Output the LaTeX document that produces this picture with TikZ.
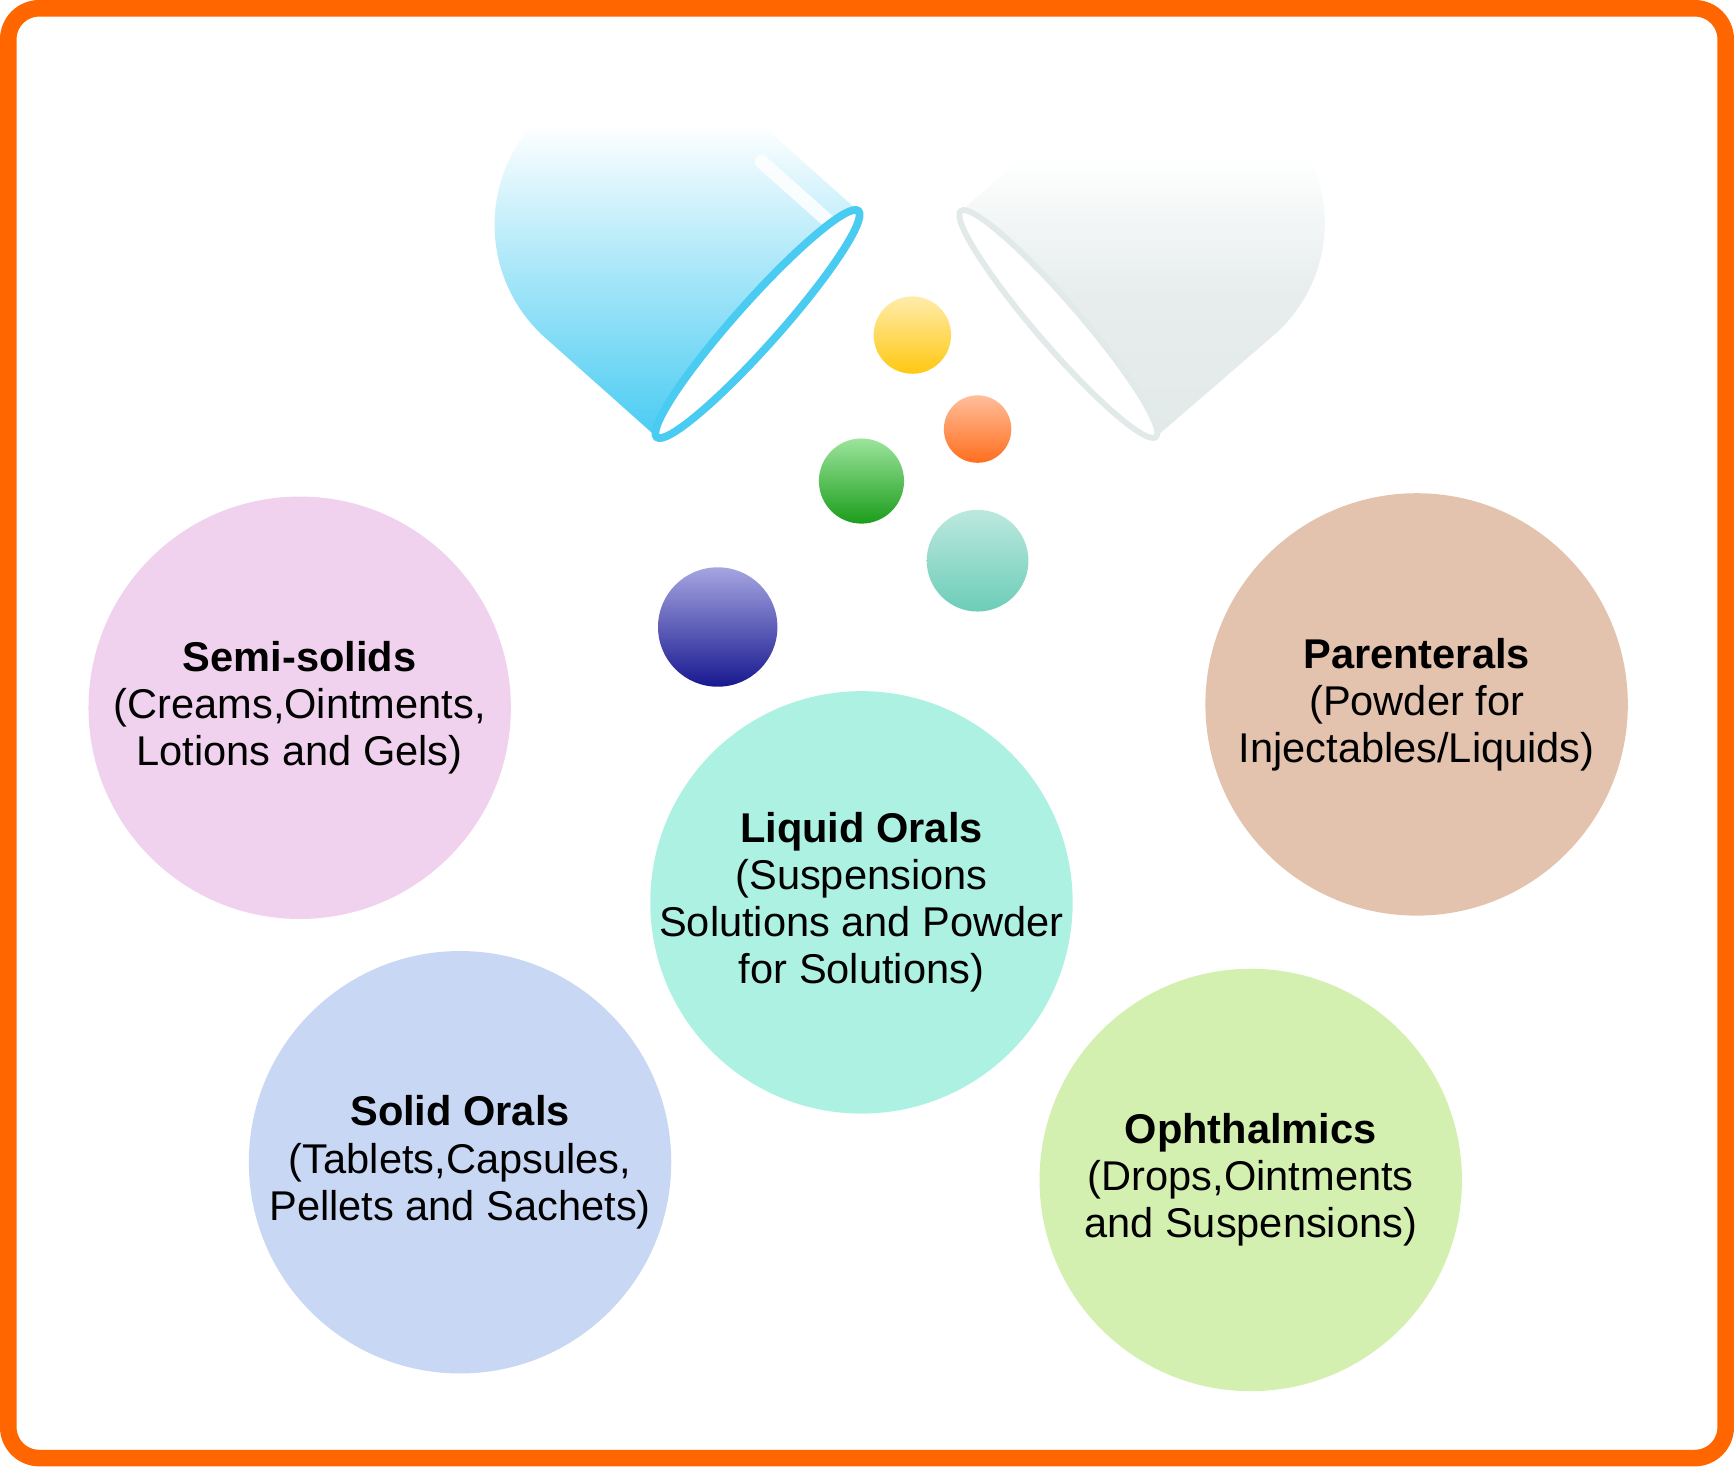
\documentclass[tikz,border=0pt]{standalone}
\usepackage{fontspec}
\setmainfont{Liberation Sans}
\definecolor{frameorange}{HTML}{FF6600}
\definecolor{semicol}{HTML}{F0D2EE}
\definecolor{liquidcol}{HTML}{ADF1E2}
\definecolor{parentcol}{HTML}{E3C3AE}
\definecolor{solidcol}{HTML}{C8D7F3}
\definecolor{ophthcol}{HTML}{D4F0B0}
\definecolor{capblue}{HTML}{4ACCF2}
\definecolor{capgrey}{HTML}{E2E9E9}
\definecolor{beadyellow}{HTML}{FFC810}
\definecolor{beadorange}{HTML}{FF6E1E}
\definecolor{beadgreen}{HTML}{22C422}
\definecolor{beadteal}{HTML}{6CCDB8}
\definecolor{beadblue}{HTML}{1E1EB4}
\pgfdeclareverticalshading{bluefade}{100bp}{color(0bp)=(capblue); color(25bp)=(capblue); color(48bp)=(capblue!45); color(66bp)=(white); color(100bp)=(white)}
\pgfdeclareverticalshading{greyfade}{100bp}{color(0bp)=(capgrey); color(25bp)=(capgrey); color(45bp)=(capgrey!80); color(62bp)=(white); color(100bp)=(white)}

\begin{document}
\begin{tikzpicture}[x=0.1mm,y=0.1mm,
        dose/.style = {circle, minimum size=38.2mm, inner sep=0pt},
        doselabel/.style = {align=center, inner sep=0pt, font=\fontsize{10.7}{12.1}\selectfont},
        bead/.style = {circle, inner sep=0pt},
        ]
        \useasboundingbox (0,0) rectangle (1568,1326);
        \draw[frameorange, line width=1.5mm, rounded corners=2.8mm] (7.5,7.5) rectangle (1560.5,1318.5);

        \begin{scope}[shift={(685,1033)},rotate=138.3]
            \shade[shading=bluefade] (0,-137) -- (135,-137) arc[start angle=-90,end angle=90,radius=137] -- (0,137) -- cycle;
            \draw[white, line width=3.5pt, opacity=0.85, line cap=round] (10,-112) -- (95,-112);
            \draw[capblue, line width=2pt, fill=white] (0,0) ellipse[x radius=20, y radius=137];
        \end{scope}
        \begin{scope}[shift={(957,1033)},rotate=40.8]
            \shade[shading=greyfade] (0,-135) -- (140,-135) arc[start angle=-90,end angle=90,radius=135] -- (0,135) -- cycle;
            \draw[capgrey, line width=1.5pt, fill=white] (0,0) ellipse[x radius=20, y radius=135];
        \end{scope}

        \node[bead, top color=beadyellow!35!white, bottom color=beadyellow, minimum size=7mm] (yellow) at (825,1023) {};
        \node[bead, top color=beadorange!45!white, bottom color=beadorange, minimum size=6.1mm] (orange) at (884,938) {};
        \node[bead, top color=beadgreen!45!white, bottom color=beadgreen!80!black, minimum size=7.7mm] (green) at (779,891) {};
        \node[bead, top color=beadteal!45!white, bottom color=beadteal, minimum size=9.2mm] (teal) at (884,819) {};
        \node[bead, top color=beadblue!40!white, bottom color=beadblue!80!black, minimum size=10.8mm] (blue) at (649,759) {};

        \node[dose, fill=semicol] (semi) at (271,686) {};
        \node[dose, fill=liquidcol] (liquid) at (779,510) {};
        \node[dose, fill=parentcol] (parent) at (1281,689) {};
        \node[dose, fill=solidcol] (solid) at (416,275) {};
        \node[dose, fill=ophthcol] (ophth) at (1131,259) {};

        \node[doselabel] (semitext) at (semi) {\textbf{Semi-solids}\\(Creams,Ointments,\\Lotions and Gels)};
        \node[doselabel] (liquidtext) at (liquid) {\textbf{Liquid Orals}\\(Suspensions\\Solutions and Powder\\for Solutions)};
        \node[doselabel] (parenttext) at (parent) {\textbf{Parenterals}\\(Powder for\\Injectables/Liquids)};
        \node[doselabel] (solidtext) at (solid) {\textbf{Solid Orals}\\(Tablets,Capsules,\\Pellets and Sachets)};
        \node[doselabel] (ophthtext) at (ophth) {\textbf{Ophthalmics}\\(Drops,Ointments\\and Suspensions)};
    \end{tikzpicture}
\end{document}
